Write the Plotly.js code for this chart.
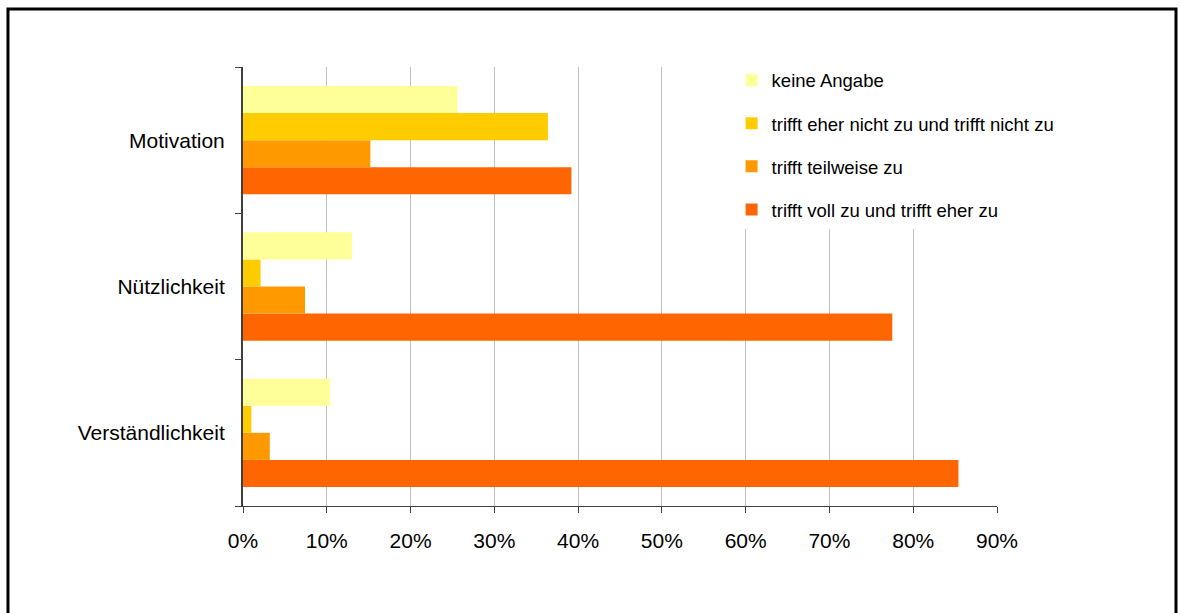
<!DOCTYPE html>
<html>
<head>
<meta charset="utf-8">
<script src="https://cdn.plot.ly/plotly-3.0.1.min.js"></script>
<style>html,body{margin:0;padding:0;background:#fff}#chart{width:1180px;height:613px}</style>
</head>
<body>
<div id="chart"></div>
<script>
const categories = ["Verständlichkeit", "Nützlichkeit", "Motivation"];
const seriesNames = ["trifft voll zu und trifft eher zu", "trifft teilweise zu", "trifft eher nicht zu und trifft nicht zu", "keine Angabe"];
const vollEher = [0.854, 0.775, 0.392];
const teilweise = [0.032, 0.074, 0.152];
const eherNicht = [0.010, 0.021, 0.364];
const keineAngabe = [0.104, 0.130, 0.256];
const seriesColors = ["#FF6600", "#FF9900", "#FFCC00", "#FFFF99"];
const legendRanks = [4, 3, 2, 1];
const xTicks = [0, 0.1, 0.2, 0.3, 0.4, 0.5, 0.6, 0.7, 0.8, 0.9];
const xTickLabels = ["0%", "10%", "20%", "30%", "40%", "50%", "60%", "70%", "80%", "90%"];

const values = [vollEher, teilweise, eherNicht, keineAngabe];
const traces = values.map((v, i) => ({
  type: "bar",
  orientation: "h",
  name: seriesNames[i],
  y: categories,
  x: v,
  legendgroup: "g" + legendRanks[i],
  legendrank: legendRanks[i],
  marker: {color: seriesColors[i], line: {width: 0}},
  hoverinfo: "x+name"
}));

const family = "Liberation Sans, Arial, sans-serif";
const legendFont = {family: family, size: 18.5, color: "#000"};
const tickFont = {family: family, size: 21, color: "#000"};

const layout = {
  width: 1180, height: 613,
  margin: {l: 243, r: 183, t: 67, b: 107},
  paper_bgcolor: "#fff", plot_bgcolor: "#fff",
  barmode: "group", bargap: 0.26, bargroupgap: 0,
  font: legendFont,
  showlegend: true,
  legend: {
    x: 0.648, y: 1.012, xanchor: "left", yanchor: "top",
    bgcolor: "#fff", borderwidth: 0,
    traceorder: "grouped", tracegroupgap: 16,
    font: legendFont
  },
  xaxis: {
    range: [0, 0.9], tickvals: xTicks, ticktext: xTickLabels,
    showgrid: true, gridcolor: "#c0c0c0", gridwidth: 1,
    showline: true, linecolor: "#404040", linewidth: 1,
    ticks: "outside", ticklen: 6, tickcolor: "#404040",
    zeroline: false, fixedrange: true, ticklabelstandoff: 10,
    tickfont: tickFont
  },
  yaxis: {
    type: "category", categoryorder: "array", categoryarray: categories,
    showgrid: false, showline: true, linecolor: "#404040", linewidth: 2,
    ticks: "outside", ticklen: 6, tickcolor: "#404040", tickson: "boundaries",
    zeroline: false, fixedrange: true, ticklabelstandoff: 12,
    tickfont: tickFont
  },
  shapes: [{
    type: "rect", xref: "paper", yref: "paper",
    x0: -0.3117, x1: 1.2374, y0: -0.27, y1: 1.1321,
    line: {color: "#000", width: 3}, fillcolor: "rgba(0,0,0,0)", layer: "above"
  }]
};

Plotly.newPlot("chart", traces, layout, {staticPlot: true, displayModeBar: false});
</script>
</body>
</html>
